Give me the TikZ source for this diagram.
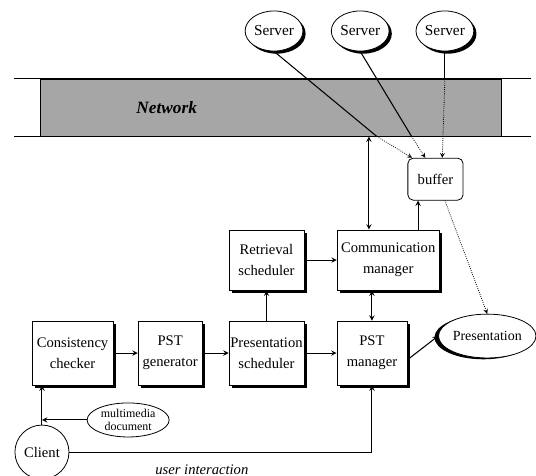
\documentclass[tikz,border=0pt]{standalone}
\usepackage{fontspec}
\setmainfont{Liberation Serif}
\usetikzlibrary{shapes,arrows,positioning,calc,shadows}

\begin{document}
\begin{tikzpicture}[
        % Styles for the blocks and links
        module/.style={draw, semithick, fill=white, minimum width=1.98cm, minimum height=1.69cm, align=center, inner sep=1pt,
          font=\fontsize{11}{16}\selectfont, drop shadow={shadow xshift=2.2pt, shadow yshift=-2.2pt, fill=black, opacity=1}},
        server/.style={draw, semithick, ellipse, fill=white, minimum width=1.53cm, minimum height=1.06cm, inner sep=0pt,
          font=\fontsize{11.5}{13}\selectfont, drop shadow={shadow xshift=2pt, shadow yshift=-2pt, fill=black, opacity=1}},
        output/.style={draw, semithick, ellipse, fill=white, minimum width=2.49cm, minimum height=1.16cm, inner sep=0pt,
          font=\fontsize{10.5}{13}\selectfont, drop shadow={shadow xshift=-3pt, shadow yshift=-1pt, fill=black, opacity=1}},
        store/.style={draw, semithick, rounded corners=4pt, minimum width=1.46cm, minimum height=1.11cm, font=\fontsize{11}{13}\selectfont},
        doc/.style={draw, semithick, ellipse, inner sep=0pt, minimum width=2.17cm, minimum height=0.9cm, align=center, font=\fontsize{9}{9.5}\selectfont},
        client/.style={draw, semithick, circle, inner sep=0pt, minimum size=1.43cm, font=\fontsize{11}{13}\selectfont},
        band/.style={draw, semithick, fill=black!35, minimum width=12.18cm, minimum height=1.51cm},
        arrow/.style={->, >=stealth, line width=0.8pt},
        twoway/.style={<->, >=stealth, line width=0.8pt},
        dotarrow/.style={->, >=stealth, densely dotted, line width=0.6pt}
      ]

      \useasboundingbox (0,0) rectangle (14.18,-12.59);

      % Network band with its rails
      \node[band] (net) at (7.17,-2.845) {};
      \draw[semithick] ([xshift=-0.69cm]net.north west) -- ([xshift=0.77cm]net.north east);
      \draw[semithick] ([xshift=-0.69cm]net.south west) -- ([xshift=0.77cm]net.south east);
      \node[font=\fontsize{13}{15}\selectfont\bfseries\itshape] (nettext) at ($(net.west) + (3.34,0)$) {Network};

      % Servers above the network
      \foreach \i/\x in {1/7.25, 2/9.53, 3/11.77} {
        \node[server] (server\i) at (\x,-0.82) {Server};
      }

      % Buffer and the upper blocks
      \node[store] (buffer) at (11.52,-4.74) {buffer};
      \node[module, minimum height=1.59cm] (retrieval) at (7.05,-6.88) {Retrieval\\scheduler};
      \node[module, minimum height=1.59cm, minimum width=2.7cm] (comm) at (10.27,-6.88) {Communication\\manager};

      % Main row of blocks
      \node[module, minimum width=2.14cm] (checker) at (1.92,-9.34) {Consistency\\checker};
      \node[module, minimum width=1.69cm] (generator) at (4.50,-9.34) {PST\\generator};
      \node[module] (scheduler) at (7.05,-9.34) {Presentation\\scheduler};
      \node[module, minimum width=1.85cm] (pstman) at (9.84,-9.34) {PST\\manager};
      \node[output] (presentation) at (12.89,-8.89) {Presentation};

      % Client side
      \node[doc] (mmdoc) at (3.39,-11.11) {multimedia\\document};
      \node[client] (client) at (1.11,-11.96) {Client};
      \node[font=\fontsize{11}{13}\selectfont\itshape] (uitext) at (5.34,-12.42) {user interaction};

      % Links between blocks
      \draw[arrow] (checker) -- (generator);
      \draw[arrow] (generator) -- (scheduler);
      \draw[arrow] (scheduler) -- (pstman);
      \draw[arrow] (scheduler) -- (retrieval);
      \draw[arrow] (retrieval) -- (comm);
      \draw[twoway] (comm.south -| pstman.north) -- (pstman.north);
      \draw[twoway] ([xshift=-0.51cm]comm.north) -- ([xshift=-0.51cm]comm.north |- net.south);
      \draw[arrow] ([xshift=0.79cm]comm.north) -- ([xshift=0.79cm]comm.north |- buffer.south);
      \draw[arrow] ([yshift=-0.18cm]pstman.east) -- (presentation.west);
      \draw[dotarrow] ([xshift=0.25cm]buffer.south) -- (presentation.north);

      % Servers feeding the buffer through the network
      \foreach \i/\cx/\dx in {1/8.90/-0.62, 2/9.82/-0.27} {
        \coordinate (cross\i) at ($(net.south west) + (\cx,0)$);
        \draw[line width=0.8pt] (server\i.south) -- (cross\i);
        \draw[dotarrow] (cross\i) -- ($(buffer.north) + (\dx,0)$);
      }
      \coordinate (cross3) at (server3.south |- net.north);
      \draw[line width=0.8pt] (server3.south) -- (cross3);
      \draw[dotarrow] (cross3) -- ($(buffer.north) + (0.18,0)$);

      % Client inputs
      \draw[arrow] (client) -- (client |- checker.south);
      \draw[arrow] (mmdoc.west) -- (mmdoc.west -| client);
      \draw[arrow] (client.east) -| (pstman.south);

    \end{tikzpicture}
\end{document}
